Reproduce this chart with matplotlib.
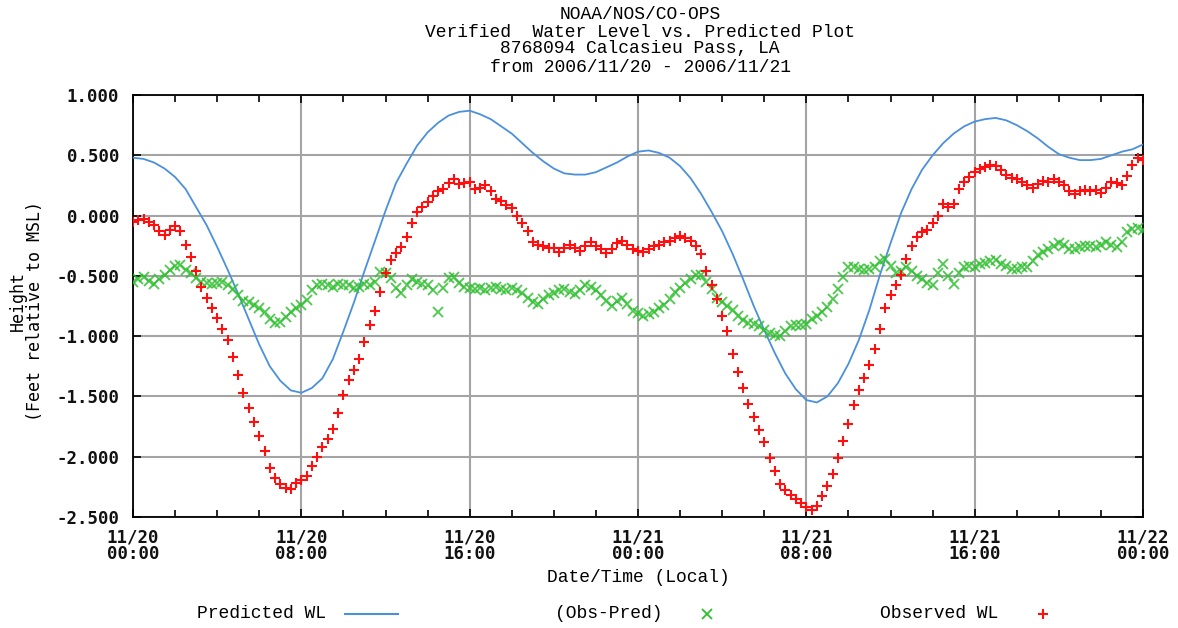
import matplotlib
matplotlib.use('Agg')
import matplotlib.pyplot as plt
import matplotlib.dates as mdates
from matplotlib.lines import Line2D
import pandas as pd

# --- data (feet relative to MSL) ---
# predicted water level, every 30 minutes from 2006-11-20 00:00
predicted = [
    0.48, 0.47, 0.44, 0.39, 0.32, 0.22, 0.07, -0.08,
    -0.26, -0.45, -0.65, -0.86, -1.07, -1.25, -1.37, -1.45,
    -1.47, -1.43, -1.35, -1.19, -0.96, -0.72, -0.46, -0.21,
    0.04, 0.27, 0.43, 0.58, 0.69, 0.77, 0.83, 0.86,
    0.87, 0.84, 0.80, 0.74, 0.68, 0.60, 0.52, 0.45,
    0.39, 0.35, 0.34, 0.34, 0.36, 0.40, 0.44, 0.49,
    0.53, 0.54, 0.52, 0.48, 0.41, 0.31, 0.18, 0.03,
    -0.13, -0.32, -0.53, -0.75, -0.95, -1.14, -1.31, -1.44,
    -1.53, -1.55, -1.50, -1.39, -1.23, -1.03, -0.78, -0.49,
    -0.23, 0.02, 0.22, 0.38, 0.50, 0.60, 0.68, 0.74,
    0.78, 0.80, 0.81, 0.79, 0.75, 0.70, 0.64, 0.57,
    0.51, 0.48, 0.46, 0.46, 0.47, 0.50, 0.53, 0.55,
    0.59,
]

# observed water level, every 15 minutes
observed = [
    -0.05, -0.04, -0.03, -0.05, -0.08, -0.13, -0.16, -0.12,
    -0.09, -0.13, -0.24, -0.34, -0.46, -0.59, -0.68, -0.77,
    -0.85, -0.94, -1.03, -1.17, -1.32, -1.47, -1.60, -1.71,
    -1.83, -1.95, -2.09, -2.18, -2.23, -2.26, -2.27, -2.22,
    -2.19, -2.16, -2.08, -2.00, -1.92, -1.85, -1.77, -1.64,
    -1.49, -1.36, -1.28, -1.19, -1.05, -0.91, -0.79, -0.63,
    -0.48, -0.37, -0.31, -0.26, -0.18, -0.06, 0.03, 0.07,
    0.11, 0.16, 0.20, 0.22, 0.27, 0.30, 0.26, 0.27,
    0.28, 0.22, 0.23, 0.25, 0.20, 0.14, 0.12, 0.09,
    0.06, 0.00, -0.06, -0.13, -0.22, -0.24, -0.25, -0.27,
    -0.27, -0.30, -0.27, -0.24, -0.27, -0.29, -0.25, -0.22,
    -0.25, -0.28, -0.31, -0.28, -0.23, -0.21, -0.24, -0.28,
    -0.29, -0.30, -0.28, -0.25, -0.24, -0.22, -0.21, -0.19,
    -0.17, -0.19, -0.21, -0.25, -0.32, -0.46, -0.58, -0.69,
    -0.83, -0.96, -1.15, -1.30, -1.43, -1.56, -1.67, -1.78,
    -1.88, -2.01, -2.12, -2.23, -2.28, -2.32, -2.35, -2.38,
    -2.42, -2.44, -2.41, -2.33, -2.24, -2.14, -2.01, -1.87,
    -1.73, -1.57, -1.45, -1.35, -1.24, -1.11, -0.94, -0.77,
    -0.66, -0.58, -0.49, -0.36, -0.25, -0.18, -0.14, -0.12,
    -0.06, 0.00, 0.10, 0.07, 0.10, 0.22, 0.28, 0.32,
    0.36, 0.39, 0.40, 0.42, 0.41, 0.38, 0.34, 0.31,
    0.30, 0.28, 0.25, 0.23, 0.26, 0.29, 0.28, 0.30,
    0.28, 0.25, 0.20, 0.18, 0.20, 0.21, 0.20, 0.21,
    0.19, 0.23, 0.28, 0.27, 0.25, 0.33, 0.42, 0.48,
    0.46,
]

# observed minus predicted, every 15 minutes
obs_pred = [
    -0.55, -0.53, -0.51, -0.54, -0.57, -0.53, -0.49, -0.45,
    -0.42, -0.41, -0.45, -0.48, -0.52, -0.55, -0.56, -0.57,
    -0.56, -0.55, -0.58, -0.61, -0.66, -0.71, -0.72, -0.74,
    -0.77, -0.80, -0.86, -0.89, -0.88, -0.84, -0.80, -0.77,
    -0.74, -0.70, -0.62, -0.58, -0.57, -0.58, -0.59, -0.57,
    -0.58, -0.58, -0.60, -0.59, -0.57, -0.58, -0.55, -0.47,
    -0.48, -0.52, -0.60, -0.64, -0.58, -0.53, -0.55, -0.57,
    -0.58, -0.62, -0.80, -0.60, -0.52, -0.51, -0.56, -0.59,
    -0.60, -0.61, -0.60, -0.62, -0.60, -0.59, -0.61, -0.62,
    -0.60, -0.62, -0.64, -0.68, -0.72, -0.73, -0.69, -0.66,
    -0.64, -0.62, -0.61, -0.63, -0.65, -0.62, -0.58, -0.59,
    -0.62, -0.66, -0.71, -0.75, -0.71, -0.68, -0.73, -0.79,
    -0.81, -0.83, -0.82, -0.80, -0.77, -0.74, -0.69, -0.63,
    -0.60, -0.56, -0.53, -0.49, -0.49, -0.55, -0.61, -0.68,
    -0.72, -0.75, -0.78, -0.83, -0.87, -0.89, -0.90, -0.92,
    -0.95, -0.97, -0.99, -1.00, -0.96, -0.92, -0.91, -0.91,
    -0.90, -0.86, -0.83, -0.80, -0.76, -0.69, -0.61, -0.51,
    -0.43, -0.43, -0.44, -0.45, -0.44, -0.43, -0.38, -0.36,
    -0.42, -0.48, -0.46, -0.43, -0.46, -0.50, -0.53, -0.56,
    -0.58, -0.48, -0.40, -0.50, -0.57, -0.48, -0.43, -0.42,
    -0.43, -0.40, -0.39, -0.38, -0.37, -0.40, -0.42, -0.44,
    -0.44, -0.43, -0.43, -0.38, -0.33, -0.30, -0.28, -0.25,
    -0.23, -0.24, -0.28, -0.28, -0.26, -0.25, -0.25, -0.26,
    -0.24, -0.22, -0.24, -0.26, -0.22, -0.14, -0.11, -0.10,
    -0.12,
]

yticks = [1.0, 0.5, 0.0, -0.5, -1.0, -1.5, -2.0, -2.5]
title_lines = ["NOAA/NOS/CO-OPS",
               "Verified  Water Level vs. Predicted Plot",
               "8768094 Calcasieu Pass, LA",
               "from 2006/11/20 - 2006/11/21"]

t_pred = pd.date_range("2006-11-20 00:00", periods=len(predicted), freq="30min")
t_obs = pd.date_range("2006-11-20 00:00", periods=len(observed), freq="15min")

MONO = "DejaVu Sans Mono"
NARROW = "Liberation Mono"

fig = plt.figure(figsize=(11.78, 6.28), dpi=100)
ax = fig.add_axes([0.1129, 0.1768, 0.8574, 0.6719])

ax.plot(t_pred, predicted, color="#4a90dc", lw=1.3, zorder=3)
ax.plot(t_obs, obs_pred, ls="none", marker="x", color="#2ec02e",
        ms=6.5, mew=1.3, alpha=0.85, zorder=4)
ax.plot(t_obs, observed, ls="none", marker="+", color="#ff1010",
        ms=7.5, mew=1.5, zorder=5)

ax.set_xlim(pd.Timestamp("2006-11-20 00:00"), pd.Timestamp("2006-11-22 00:00"))
ax.set_ylim(-2.5, 1.0)
ax.set_yticks(yticks)
ax.yaxis.set_major_formatter(matplotlib.ticker.FormatStrFormatter("%.3f"))
ax.xaxis.set_major_locator(mdates.HourLocator(byhour=[0, 8, 16]))
ax.xaxis.set_minor_locator(mdates.HourLocator(interval=2))
ax.xaxis.set_major_formatter(mdates.DateFormatter("%m/%d\n%H:%M"))

ax.grid(True, which="major", color="#a4a4a4", lw=1.5)
ax.set_axisbelow(True)
ax.tick_params(which="both", direction="in", top=True, right=True,
               color="black", width=1.2)
ax.tick_params(which="major", length=6, pad=10)
ax.tick_params(axis="x", which="major", pad=8)
ax.tick_params(which="minor", length=5)
for lab in ax.get_xticklabels() + ax.get_yticklabels():
    lab.set_fontfamily(MONO)
    lab.set_fontweight("bold")
    lab.set_fontsize(12.5)
    lab.set_color("#111111")
for lab in ax.get_xticklabels():
    lab.set_linespacing(0.95)
for sp in ax.spines.values():
    sp.set_linewidth(1.3)
    sp.set_color("black")

# titles and axis labels
for y, line in zip([0.9777, 0.949, 0.922, 0.8933], title_lines):
    fig.text(0.5433, y, line, ha="center", va="center",
             fontfamily=NARROW, fontsize=13)
fig.text(0.5416, 0.081, "Date/Time (Local)", ha="center", va="center",
         fontfamily=NARROW, fontsize=13)
fig.text(0.0153, 0.52, "Height", rotation=90, ha="center", va="center",
         fontfamily=MONO, fontsize=12)
fig.text(0.0297, 0.505, "(Feet relative to MSL)", rotation=90,
         ha="center", va="center", fontfamily=MONO, fontsize=12)

# legend row along the bottom
ly = 0.0223
fig.text(0.1672, ly, "Predicted WL", ha="left", va="center",
         fontfamily=NARROW, fontsize=13)
fig.add_artist(Line2D([0.2929, 0.3379], [ly, ly], color="#4a90dc", lw=1.5,
                      transform=fig.transFigure))
fig.text(0.4711, ly, "(Obs-Pred)", ha="left", va="center",
         fontfamily=NARROW, fontsize=13)
fig.add_artist(Line2D([0.6002], [ly], ls="none", marker="x", color="#2ec02e",
                      ms=6.5, mew=1.3, transform=fig.transFigure))
fig.text(0.7470, ly, "Observed WL", ha="left", va="center",
         fontfamily=NARROW, fontsize=13)
fig.add_artist(Line2D([0.8854], [ly], ls="none", marker="+", color="#ff1010",
                      ms=7, mew=1.5, transform=fig.transFigure))

fig.savefig("out.png", dpi=100)
